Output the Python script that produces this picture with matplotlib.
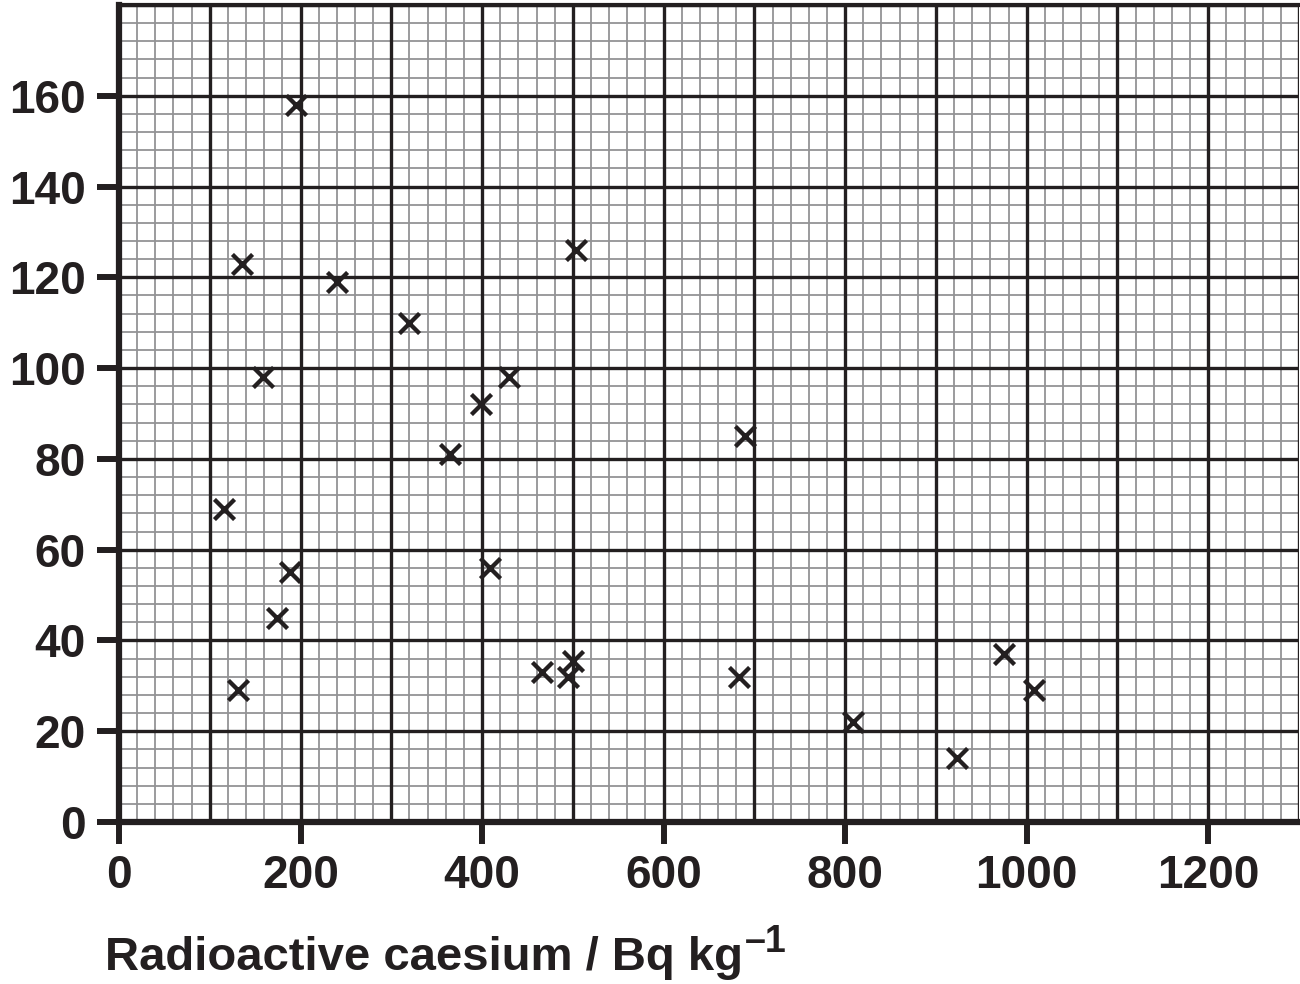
import numpy as np
import matplotlib
matplotlib.use("Agg")
import matplotlib.pyplot as plt
from matplotlib.ticker import MultipleLocator

# caesium (Bq/kg) vs y value
caesium = [195, 135, 240, 504, 320, 159, 430, 399, 365, 690, 116, 188, 409,
           174, 131, 466, 500, 495, 683, 809, 923, 975, 1008]
values = [158, 123, 119, 126, 110, 98, 98, 92, 81, 85, 69, 55, 56,
          45, 29, 33, 35.5, 32, 32, 22, 14, 37, 29]

x_ticks = [0, 200, 400, 600, 800, 1000, 1200]
y_ticks = [0, 20, 40, 60, 80, 100, 120, 140, 160]

ink = "#231f20"
plt.rcParams['font.family'] = ['Liberation Sans', 'DejaVu Sans']

fig = plt.figure(figsize=(13, 9.84), dpi=100)
ax = fig.add_axes([119 / 1300, 1 - 822 / 984, 1180 / 1300, 817 / 984])

ax.set_xlim(0, 1300)
ax.set_ylim(0, 180)

# graph paper grid
ax.xaxis.set_minor_locator(MultipleLocator(20))
ax.yaxis.set_minor_locator(MultipleLocator(4))
ax.grid(which='minor', color='#939395', linewidth=1.3, zorder=0)
for gx in np.arange(100, 1301, 100):
    ax.axvline(gx, color=ink, linewidth=2.4, zorder=1)
for gy in np.arange(20, 181, 20):
    ax.axhline(gy, color=ink, linewidth=2.4, zorder=1)
ax.set_axisbelow(True)

ax.scatter(caesium, values, marker='x', s=210, linewidths=3.1, color=ink, zorder=3)

ax.set_xticks(x_ticks)
ax.set_yticks(y_ticks)
ax.set_xticklabels([str(t) for t in x_ticks], fontsize=33, fontweight='bold', color=ink)
ax.set_yticklabels([str(t) for t in y_ticks], fontsize=33, fontweight='bold', color=ink)
ax.tick_params(which='major', length=16, width=4.3, color=ink)
ax.tick_params(axis='x', pad=7)
ax.tick_params(axis='y', pad=8)
ax.tick_params(which='minor', length=0)

for side in ['left', 'bottom']:
    ax.spines[side].set_linewidth(4.5)
    ax.spines[side].set_color(ink)
ax.spines['top'].set_linewidth(3)
ax.spines['top'].set_color(ink)
ax.spines['right'].set_visible(False)

# x axis label with a large superscript
lab = fig.text(105 / 1300, 1 - 970 / 984, 'Radioactive caesium / Bq kg',
               fontsize=34, fontweight='bold', color=ink, va='baseline', ha='left')
fig.canvas.draw()
bb = lab.get_window_extent()
fig.text((bb.x1 + 2) / 1300, 1 - 952 / 984, '\u20131',
         fontsize=27, fontweight='bold', color=ink, va='baseline', ha='left')

fig.savefig('out.png', dpi=100)
